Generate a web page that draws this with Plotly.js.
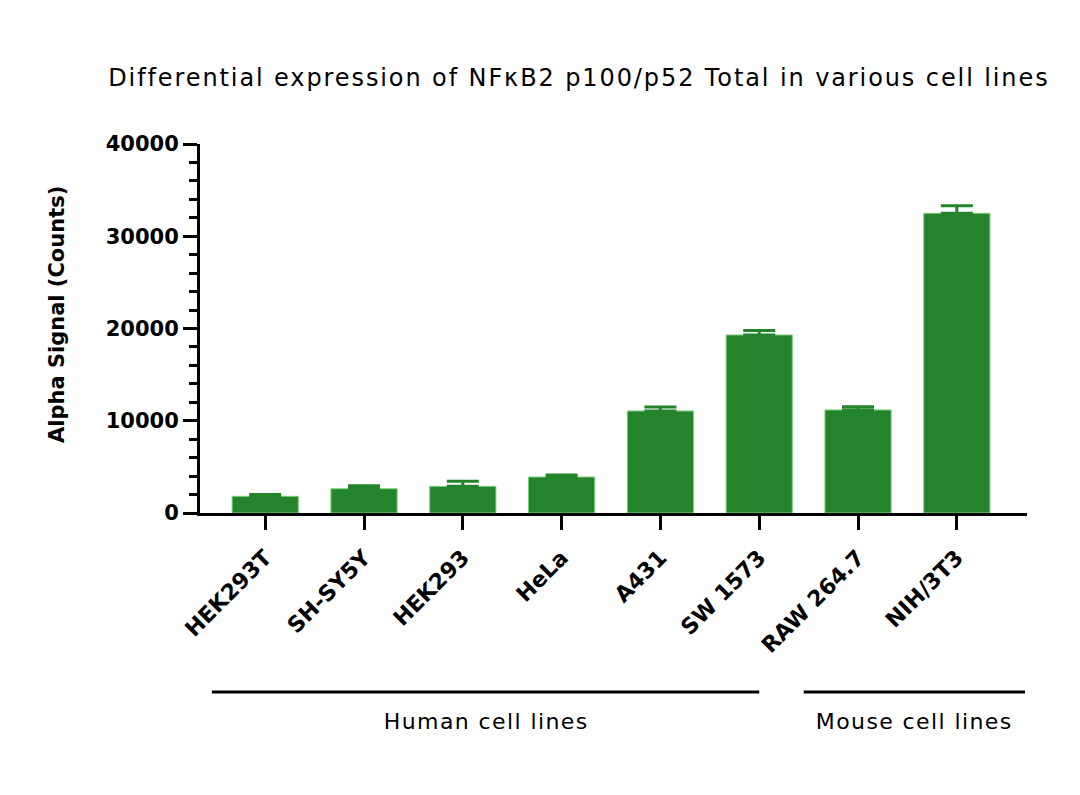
<!DOCTYPE html>
<html>
<head>
<meta charset="utf-8">
<script src="https://cdn.plot.ly/plotly-3.0.1.min.js"></script>
<style>
  html, body { margin: 0; padding: 0; background: #fff; }
  #plot-div { width: 1080px; height: 795px; }
  #plot-div .gtitle { letter-spacing: 1.9px; }
  #plot-div .group-label .annotation-text { letter-spacing: 1.4px; }
</style>
</head>
<body>
<div id="plot-div"></div>
<script>
var cellLines = ["HEK293T", "SH-SY5Y", "HEK293", "HeLa", "A431", "SW 1573", "RAW 264.7", "NIH/3T3"];
var signal = [1810, 2630, 2890, 3900, 11060, 19300, 11170, 32490];
var errors = [200, 320, 560, 220, 420, 480, 360, 820];
var yTicks = [0, 10000, 20000, 30000, 40000];
var groupNames = ["Human cell lines", "Mouse cell lines"];
var groupStart = [-0.54, 5.45];
var groupEnd = [5.0, 7.69];

var green = "#23842b";
var textFont = "DejaVu Sans";

var trace = {
  x: cellLines.map(function (_, i) { return i; }),
  y: signal,
  type: "bar",
  width: 0.67,
  marker: { color: green, line: { color: "#7fd07f", width: 1 } },
  error_y: {
    type: "data",
    symmetric: false,
    array: errors,
    arrayminus: errors.map(function () { return 0; }),
    color: green,
    thickness: 3,
    width: 16,
  },
  hoverinfo: "none",
};

var shapes = [];
var annotations = [];
groupNames.forEach(function (name, i) {
  shapes.push({
    type: "line", xref: "x", yref: "paper",
    x0: groupStart[i], x1: groupEnd[i], y0: -0.485, y1: -0.485,
    line: { color: "#000", width: 3 },
  });
  annotations.push({
    text: name, xref: "x", yref: "paper",
    x: (groupStart[i] + groupEnd[i]) / 2, y: -0.565,
    showarrow: false, xanchor: "center", yanchor: "middle",
    font: { family: textFont, size: 22, color: "#000" },
  });
});

// y-axis title placed as an annotation so it can sit above the plot centre like the reference
annotations.push({
  text: "Alpha Signal (Counts)", xref: "paper", yref: "paper",
  x: -0.173, y: 0.539, textangle: -90,
  showarrow: false, xanchor: "center", yanchor: "middle",
  font: { family: "DejaVu Sans", size: 21, color: "#000", weight: "bold" },
});

var layout = {
  width: 1080,
  height: 795,
  margin: { l: 200, r: 53, t: 144, b: 282 },
  paper_bgcolor: "#fff",
  plot_bgcolor: "#fff",
  showlegend: false,
  title: {
    text: "Differential expression of NFκB2 p100/p52 Total in various cell lines",
    font: { family: textFont, size: 24, color: "#000" },
    xref: "container", x: 0.536, xanchor: "center",
    yref: "container", y: 0.903, yanchor: "middle",
  },
  xaxis: {
    range: [-0.66, 7.71],
    tickmode: "array",
    tickvals: cellLines.map(function (_, i) { return i; }),
    ticktext: cellLines,
    tickangle: -45,
    tickfont: { family: "DejaVu Sans", size: 22, color: "#000", weight: "bold" },
    ticklabelstandoff: 6,
    ticks: "outside",
    ticklen: 14,
    tickwidth: 3,
    tickcolor: "#000",
    showline: true,
    linecolor: "#000",
    linewidth: 3,
    showgrid: false,
    zeroline: false,
    fixedrange: true,
  },
  yaxis: {
    range: [0, 40000],
    tickmode: "array",
    tickvals: yTicks,
    ticktext: yTicks.map(String),
    ticks: "outside",
    ticklen: 14,
    tickwidth: 3,
    tickcolor: "#000",
    tickfont: { family: "DejaVu Sans", size: 21, color: "#000", weight: "bold" },
    minor: { dtick: 2000, ticks: "outside", ticklen: 8, tickwidth: 3, tickcolor: "#000", showgrid: false },
    showline: true,
    linecolor: "#000",
    linewidth: 3,
    showgrid: false,
    zeroline: false,
    fixedrange: true,
  },
  shapes: shapes,
  annotations: annotations,
};

Plotly.newPlot("plot-div", [trace], layout, { displayModeBar: false, staticPlot: true }).then(function () {
  // tag the two group captions so the letter spacing only touches them
  var notes = document.querySelectorAll("#plot-div .annotation");
  for (var i = 0; i < groupNames.length; i++) {
    notes[i].classList.add("group-label");
  }
});
</script>
</body>
</html>
